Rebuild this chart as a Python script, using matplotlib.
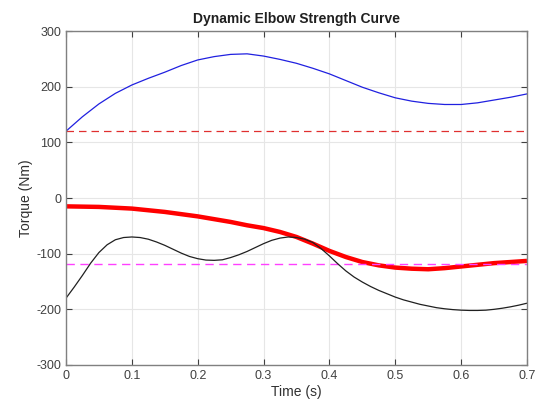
import numpy as np
import matplotlib
matplotlib.use('Agg')
import matplotlib.pyplot as plt

plt.rcParams['font.family'] = ['Liberation Sans', 'DejaVu Sans']
plt.rcParams['axes.unicode_minus'] = False

# time samples (s)
t = [0.0, 0.025, 0.05, 0.075, 0.1, 0.125, 0.15, 0.175, 0.2, 0.225,
     0.25, 0.275, 0.3, 0.325, 0.35, 0.375, 0.4, 0.425, 0.45, 0.475,
     0.5, 0.525, 0.55, 0.575, 0.6, 0.625, 0.65, 0.675, 0.7]

# upper limit curve (blue)
upper = [120, 146, 169, 188, 203, 215, 226, 238, 248, 254,
         258, 259, 255, 249, 242, 233, 223, 211, 199, 189,
         180, 174, 170, 168, 168, 171, 176, 181, 187]

# strength curve (thick red)
strength = [-15, -15.5, -16, -17.5, -19, -22, -25, -29, -33, -38,
            -43, -49, -54, -61, -70, -82, -95, -106, -115, -121,
            -125, -127, -128, -126, -123, -120, -117, -115, -113]

# lower curve (black), read at a finer step
t_fine = [0.0, 0.0125, 0.025, 0.0375, 0.05, 0.0625, 0.075, 0.0875, 0.1, 0.1125,
          0.125, 0.1375, 0.15, 0.1625, 0.175, 0.1875, 0.2, 0.2125, 0.225, 0.2375,
          0.25, 0.2625, 0.275, 0.2875, 0.3, 0.3125, 0.325, 0.3375, 0.35, 0.3625,
          0.375, 0.3875, 0.4, 0.4125, 0.425, 0.4375, 0.45, 0.4625, 0.475, 0.4875,
          0.5, 0.5125, 0.525, 0.5375, 0.55, 0.5625, 0.575, 0.5875, 0.6, 0.6125,
          0.625, 0.6375, 0.65, 0.6625, 0.675, 0.6875, 0.7]
lower = [-180, -160, -139, -117, -98, -84, -75, -71, -70, -71,
         -74, -79, -85, -92, -99, -105, -109, -111.5, -112, -111,
         -107, -102, -96, -89, -82, -76, -72, -70, -71, -74,
         -80, -91, -104, -118, -131, -142, -151, -159, -166, -172,
         -178, -183, -187, -191, -194, -197, -199, -200.5, -201.5, -202,
         -202, -201.5, -200, -198, -195.5, -192.5, -189]

upper_limit = 120
lower_limit = -118

fig = plt.figure(figsize=(5.39, 4.07), dpi=100)
ax = fig.add_axes([0.1224, 0.1032, 0.8553, 0.8206])

ax.plot(t, upper, color='#2020e0', lw=0.9)
ax.axhline(upper_limit, color='#e03030', lw=0.9, ls=(0, (6, 4)))
ax.plot(t, strength, color='#ff0000', lw=3.2, solid_capstyle='butt')
ax.axhline(lower_limit, color='#ff40ff', lw=1.0, ls=(0, (6, 4)))
ax.plot(t_fine, lower, color='#202020', lw=0.9)

ax.set_xlim(0, 0.7)
ax.set_ylim(-300, 300)
ax.set_xticks(np.arange(0, 0.71, 0.1))
ax.set_xticklabels(['0', '0.1', '0.2', '0.3', '0.4', '0.5', '0.6', '0.7'])
ax.set_yticks(np.arange(-300, 301, 100))

ax.grid(True, color='#e6e6e6', lw=0.8)
ax.set_axisbelow(True)
ax.tick_params(direction='in', top=True, right=True, length=4,
               colors='#404040', labelsize=9, labelcolor='#404040')
for s in ax.spines.values():
    s.set_color('#808080')
    s.set_linewidth(1.0)

ax.set_xlabel('Time (s)', fontsize=10, color='#303030', labelpad=2)
ax.set_ylabel('Torque (Nm)', fontsize=10, color='#303030', labelpad=2)
ax.set_title('Dynamic Elbow Strength Curve', fontsize=10, fontweight='bold',
             color='#202020', pad=6)

fig.savefig('out.png', dpi=100)
